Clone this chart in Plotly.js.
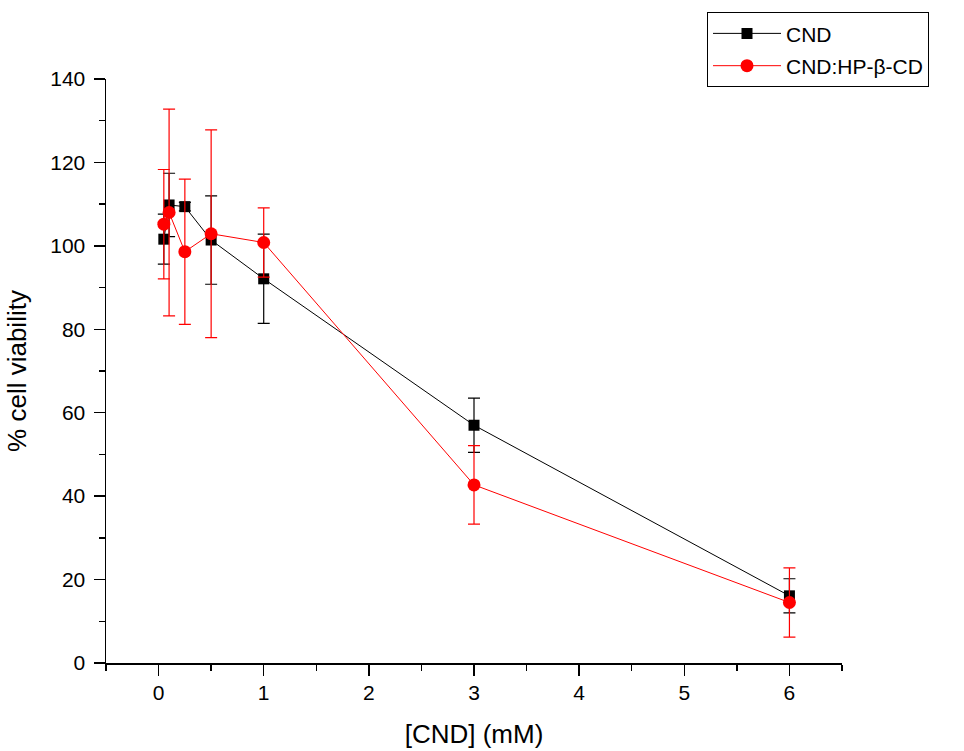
<!DOCTYPE html>
<html>
<head>
<meta charset="utf-8">
<script src="https://cdn.plot.ly/plotly-3.0.1.min.js"></script>
<style>html,body{margin:0;padding:0;background:#fff;}#chart{width:964px;height:751px;}</style>
</head>
<body>
<div id="chart"></div>
<script>
const conc = [0.05, 0.1, 0.25, 0.5, 1, 3, 6];
const cndMean = [101.6, 109.8, 109.4, 101.4, 92.1, 57.0, 16.1];
const cndErr  = [6.0, 7.6, 1.0, 10.6, 10.7, 6.5, 4.1];
const cplxMean = [105.2, 108.0, 98.6, 102.9, 100.8, 42.7, 14.5];
const cplxErr  = [13.1, 24.8, 17.4, 24.9, 8.3, 9.4, 8.3];
const seriesNames = ['CND', 'CND:HP-β-CD'];

const traces = [
  {
    x: conc, y: cndMean, name: seriesNames[0], type: 'scatter', mode: 'lines+markers',
    legendgroup: 'a',
    line: {color: '#000000', width: 1},
    marker: {symbol: 'square', size: 11, color: '#000000'},
    error_y: {type: 'data', array: cndErr, visible: true, color: '#000000', thickness: 1.2, width: 6}
  },
  {
    x: conc, y: cplxMean, name: seriesNames[1], type: 'scatter', mode: 'lines+markers',
    legendgroup: 'b',
    line: {color: '#ff0000', width: 1},
    marker: {symbol: 'circle', size: 13, color: '#ff0000'},
    error_y: {type: 'data', array: cplxErr, visible: true, color: '#ff0000', thickness: 1.2, width: 6}
  }
];

const font = {family: 'Liberation Sans, Arial, sans-serif', color: '#000'};
const layout = {
  width: 964, height: 751,
  margin: {l: 106, r: 122, t: 77, b: 88},
  paper_bgcolor: '#fff', plot_bgcolor: '#fff',
  font: font,
  showlegend: true,
  legend: {
    x: (707 - 106) / 736, y: (663 - 10) / 586, xanchor: 'left', yanchor: 'top',
    bordercolor: '#000', borderwidth: 1, bgcolor: '#fff',
    font: {family: font.family, size: 21, color: '#000'},
    tracegroupgap: 2, itemwidth: 68,
    entrywidth: 240, entrywidthmode: 'pixels'
  },
  xaxis: {
    range: [-0.5, 6.5], tickmode: 'array', tickvals: [0,1,2,3,4,5,6],
    ticks: 'outside', ticklen: 11, tickwidth: 1.5, tickcolor: '#000',
    ticklabelstandoff: -1,
    minor: {dtick: 0.5, ticks: 'outside', ticklen: 6, tickwidth: 1.5, tickcolor: '#000'},
    showline: true, linecolor: '#000', linewidth: 1.5, showgrid: false, zeroline: false,
    tickfont: {family: font.family, size: 21, color: '#000'},
    title: {text: '[CND] (mM)', font: {family: font.family, size: 26, color: '#000'}, standoff: 22}
  },
  yaxis: {
    range: [0, 140], tickmode: 'array', tickvals: [0,20,40,60,80,100,120,140],
    ticks: 'outside', ticklen: 11, tickwidth: 1.5, tickcolor: '#000',
    ticklabelstandoff: 4,
    minor: {dtick: 10, ticks: 'outside', ticklen: 6, tickwidth: 1.5, tickcolor: '#000'},
    showline: true, linecolor: '#000', linewidth: 1.5, showgrid: false, zeroline: false,
    tickfont: {family: font.family, size: 21, color: '#000'},
    title: {text: '% cell viability', font: {family: font.family, size: 26, color: '#000'}, standoff: 16}
  }
};

Plotly.newPlot('chart', traces, layout, {displayModeBar: false, staticPlot: true});
</script>
</body>
</html>
